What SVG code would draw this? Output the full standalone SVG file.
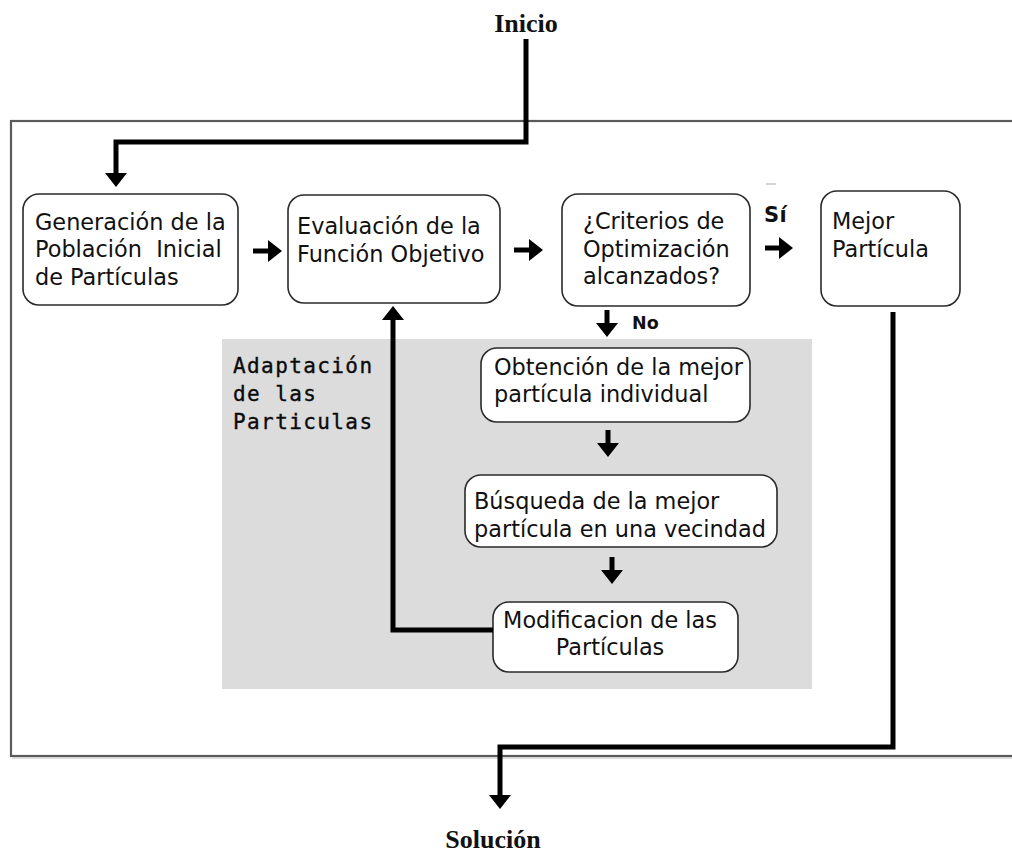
<svg xmlns="http://www.w3.org/2000/svg" width="1012" height="852" viewBox="0 0 1012 852">
<style>
  .box { fill: #ffffff; stroke: #2a2a2a; stroke-width: 1.6; }
  .t { font-family: "DejaVu Sans", Verdana, sans-serif; font-size: 22.4px; fill: #111; }
  .mono { font-family: "DejaVu Sans Mono", "Liberation Mono", monospace; font-size: 21px; letter-spacing: 1.4px; fill: #0a0a0a; stroke: #0a0a0a; stroke-width: 0.35; }
  .title { font-family: "Liberation Serif", "Times New Roman", serif; font-weight: bold; font-size: 26px; fill: #111; }
  .lbl { font-family: "DejaVu Sans", sans-serif; font-weight: bold; fill: #111; }
  .conn { fill: none; stroke: #000; stroke-width: 5; stroke-linejoin: miter; }
</style>
<defs>
  <marker id="ah" markerUnits="userSpaceOnUse" markerWidth="14" markerHeight="22" refX="2" refY="11" orient="auto">
    <path d="M0,0 L14,11 L0,22 z" fill="#000"/>
  </marker>
</defs>
<rect width="1012" height="852" fill="#ffffff"/>
<!-- outer frame -->
<rect x="11" y="121" width="1012" height="635" fill="none" stroke="#5a5a5a" stroke-width="2.2"/>
<line x1="12" y1="758" x2="1012" y2="758" stroke="#bbbbbb" stroke-width="1"/>
<!-- adaptation region -->
<rect id="region" x="222" y="339" width="590" height="350" fill="#dcdcdc"/>
<text class="mono" x="233" y="373">Adaptación</text>
<text class="mono" x="233" y="401">de las</text>
<text class="mono" x="233" y="429">Particulas</text>

<text id="inicio" class="title" x="526" y="32" text-anchor="middle">Inicio</text>
<text id="solucion" class="title" x="493" y="848" text-anchor="middle">Solución</text>

<g id="n1">
  <rect class="box" x="23" y="194" width="215" height="111" rx="16"/>
  <text class="t" x="35" y="230">Generación de la</text>
  <text class="t" x="35" y="257" xml:space="preserve">Población  Inicial</text>
  <text class="t" x="35" y="285">de Partículas</text>
</g>
<g id="n2">
  <rect class="box" x="288" y="195" width="212" height="108" rx="16"/>
  <text class="t" x="297" y="234">Evaluación de la</text>
  <text class="t" x="297" y="262">Función Objetivo</text>
</g>
<g id="n3">
  <rect class="box" x="562" y="194" width="188" height="112" rx="16"/>
  <text class="t" x="583" y="229">¿Criterios de</text>
  <text class="t" x="583" y="257">Optimización</text>
  <text class="t" x="583" y="284">alcanzados?</text>
</g>
<g id="n4">
  <rect class="box" x="821" y="191" width="139" height="115" rx="16"/>
  <text class="t" x="832" y="229">Mejor</text>
  <text class="t" x="832" y="257">Partícula</text>
</g>
<g id="n5">
  <rect class="box" x="481" y="348" width="269" height="74" rx="16"/>
  <text class="t" x="494" y="375">Obtención de la mejor</text>
  <text class="t" x="494" y="402">partícula individual</text>
</g>
<g id="n6">
  <rect class="box" x="465" y="475" width="312" height="72" rx="16"/>
  <text class="t" x="474" y="509">Búsqueda de la mejor</text>
  <text class="t" x="474" y="537">partícula en una vecindad</text>
</g>
<g id="n7">
  <rect class="box" x="493" y="602" width="245" height="70" rx="16"/>
  <text class="t" x="610" y="628" text-anchor="middle">Modificacion de las</text>
  <text class="t" x="610" y="655" text-anchor="middle">Partículas</text>
</g>

<g id="labels">
  <text class="lbl" x="764" y="222" font-size="21" letter-spacing="0.5" font-family="DejaVu Sans Mono, monospace">Sí</text>
  <line x1="766" y1="184" x2="776" y2="184" stroke="#aaaaaa" stroke-width="1"/>
  <text class="lbl" x="632" y="329" font-size="17.5">No</text>
</g>

<g id="connectors">
  <path class="conn" d="M526,39 V142 H116 V175" marker-end="url(#ah)"/>
  <path class="conn" d="M253,251 H270" marker-end="url(#ah)"/>
  <path class="conn" d="M514,250 H531" marker-end="url(#ah)"/>
  <path class="conn" d="M765,248 H781" marker-end="url(#ah)"/>
  <path class="conn" d="M607,310 V325" marker-end="url(#ah)"/>
  <path class="conn" d="M608,430 V445" marker-end="url(#ah)"/>
  <path class="conn" d="M612,557 V572" marker-end="url(#ah)"/>
  <path class="conn" d="M493,630 H393 V318" marker-end="url(#ah)"/>
  <path class="conn" d="M893,312 V747 H500 V797" marker-end="url(#ah)"/>
</g>
</svg>
